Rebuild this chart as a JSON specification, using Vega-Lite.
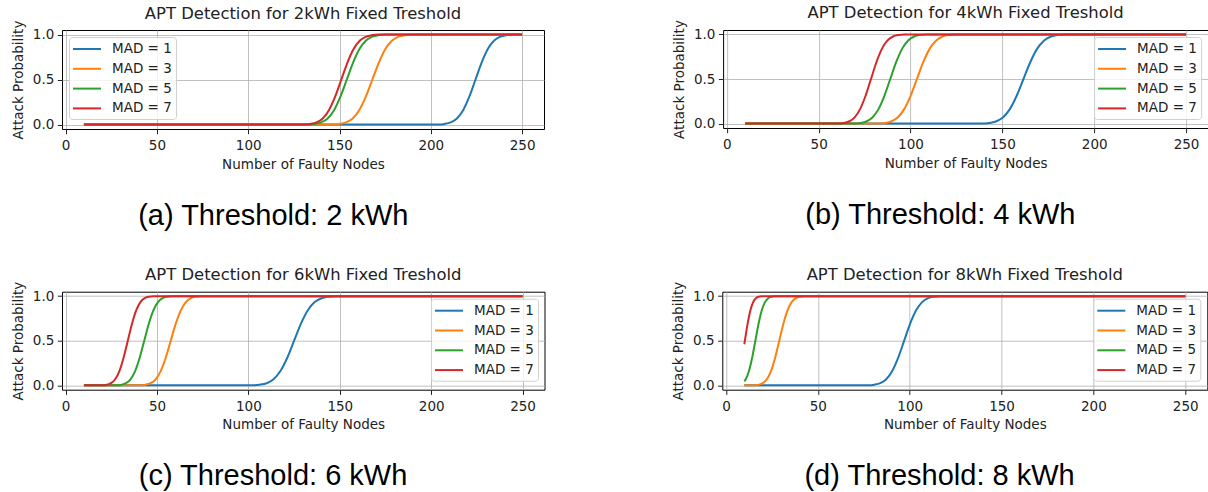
{
  "$schema": "https://vega.github.io/schema/vega-lite/v6.json",
  "padding": {"left": 11, "top": 4, "right": 0, "bottom": 0},
  "background": "white",
  "config": {
    "font": "DejaVu Sans",
    "view": {"stroke": "black", "strokeWidth": 1},
    "axis": {
      "labelFont": "DejaVu Sans", "labelFontSize": 13.5, "labelColor": "#222",
      "titleFont": "DejaVu Sans", "titleFontSize": 13.5, "titleFontWeight": "normal", "titleColor": "#222",
      "grid": true, "gridColor": "#b0b0b0", "gridWidth": 0.8,
      "tickColor": "#222", "tickSize": 4.7, "domain": false
    },
    "axisX": {"labelPadding": 5, "titlePadding": 5, "labelFlush": false},
    "axisY": {"labelPadding": 3.5, "titlePadding": 6.8},
    "title": {"font": "DejaVu Sans", "fontSize": 16.4, "fontWeight": "normal", "color": "#222", "baseline": "alphabetic", "offset": -2.2},
    "legend": {
      "title": null, "symbolStrokeWidth": 2, "symbolSize": 190,
      "labelFont": "DejaVu Sans", "labelFontSize": 13.5, "labelColor": "#222", "labelOffset": 23,
      "rowPadding": 4.8, "padding": 4, "offset": 7,
      "fillColor": "rgba(255,255,255,0.8)", "strokeColor": "#d0d0d0", "cornerRadius": 3
    },
    "line": {"strokeWidth": 2, "interpolate": "monotone"}
  },
  "datasets": {
    "d": [
      {"p":"a","m":1,"x":10,"y":0},{"p":"a","m":1,"x":204.1,"y":0},{"p":"a","m":1,"x":207.5,"y":0.006},{"p":"a","m":1,"x":210.9,"y":0.023},{"p":"a","m":1,"x":214.3,"y":0.067},{"p":"a","m":1,"x":217.7,"y":0.159},{"p":"a","m":1,"x":221.1,"y":0.309},{"p":"a","m":1,"x":224.5,"y":0.5},{"p":"a","m":1,"x":227.9,"y":0.691},{"p":"a","m":1,"x":231.3,"y":0.841},{"p":"a","m":1,"x":234.7,"y":0.933},{"p":"a","m":1,"x":238.1,"y":0.977},{"p":"a","m":1,"x":241.5,"y":0.994},{"p":"a","m":1,"x":244.9,"y":1},{"p":"a","m":1,"x":250,"y":1},
      {"p":"a","m":3,"x":10,"y":0},{"p":"a","m":3,"x":146.4,"y":0},{"p":"a","m":3,"x":150,"y":0.006},{"p":"a","m":3,"x":153.6,"y":0.023},{"p":"a","m":3,"x":157.2,"y":0.067},{"p":"a","m":3,"x":160.8,"y":0.159},{"p":"a","m":3,"x":164.4,"y":0.309},{"p":"a","m":3,"x":168,"y":0.5},{"p":"a","m":3,"x":171.6,"y":0.691},{"p":"a","m":3,"x":175.2,"y":0.841},{"p":"a","m":3,"x":178.8,"y":0.933},{"p":"a","m":3,"x":182.4,"y":0.977},{"p":"a","m":3,"x":186,"y":0.994},{"p":"a","m":3,"x":189.6,"y":1},{"p":"a","m":3,"x":250,"y":1},
      {"p":"a","m":5,"x":10,"y":0},{"p":"a","m":5,"x":133,"y":0},{"p":"a","m":5,"x":136.5,"y":0.006},{"p":"a","m":5,"x":140,"y":0.023},{"p":"a","m":5,"x":143.5,"y":0.067},{"p":"a","m":5,"x":147,"y":0.159},{"p":"a","m":5,"x":150.5,"y":0.309},{"p":"a","m":5,"x":154,"y":0.5},{"p":"a","m":5,"x":157.5,"y":0.691},{"p":"a","m":5,"x":161,"y":0.841},{"p":"a","m":5,"x":164.5,"y":0.933},{"p":"a","m":5,"x":168,"y":0.977},{"p":"a","m":5,"x":171.5,"y":0.994},{"p":"a","m":5,"x":175,"y":1},{"p":"a","m":5,"x":250,"y":1},
      {"p":"a","m":7,"x":10,"y":0},{"p":"a","m":7,"x":130.6,"y":0},{"p":"a","m":7,"x":134,"y":0.006},{"p":"a","m":7,"x":137.4,"y":0.023},{"p":"a","m":7,"x":140.8,"y":0.067},{"p":"a","m":7,"x":144.2,"y":0.159},{"p":"a","m":7,"x":147.6,"y":0.309},{"p":"a","m":7,"x":151,"y":0.5},{"p":"a","m":7,"x":154.4,"y":0.691},{"p":"a","m":7,"x":157.8,"y":0.841},{"p":"a","m":7,"x":161.2,"y":0.933},{"p":"a","m":7,"x":164.6,"y":0.977},{"p":"a","m":7,"x":168,"y":0.994},{"p":"a","m":7,"x":171.4,"y":1},{"p":"a","m":7,"x":250,"y":1},

      {"p":"b","m":1,"x":10,"y":0},{"p":"b","m":1,"x":139,"y":0},{"p":"b","m":1,"x":142.75,"y":0.006},{"p":"b","m":1,"x":146.5,"y":0.023},{"p":"b","m":1,"x":150.25,"y":0.067},{"p":"b","m":1,"x":154,"y":0.159},{"p":"b","m":1,"x":157.75,"y":0.309},{"p":"b","m":1,"x":161.5,"y":0.5},{"p":"b","m":1,"x":165.25,"y":0.691},{"p":"b","m":1,"x":169,"y":0.841},{"p":"b","m":1,"x":172.75,"y":0.933},{"p":"b","m":1,"x":176.5,"y":0.977},{"p":"b","m":1,"x":180.25,"y":0.994},{"p":"b","m":1,"x":184,"y":1},{"p":"b","m":1,"x":250,"y":1},
      {"p":"b","m":3,"x":10,"y":0},{"p":"b","m":3,"x":82.5,"y":0},{"p":"b","m":3,"x":86,"y":0.006},{"p":"b","m":3,"x":89.5,"y":0.023},{"p":"b","m":3,"x":93,"y":0.067},{"p":"b","m":3,"x":96.5,"y":0.159},{"p":"b","m":3,"x":100,"y":0.309},{"p":"b","m":3,"x":103.5,"y":0.5},{"p":"b","m":3,"x":107,"y":0.691},{"p":"b","m":3,"x":110.5,"y":0.841},{"p":"b","m":3,"x":114,"y":0.933},{"p":"b","m":3,"x":117.5,"y":0.977},{"p":"b","m":3,"x":121,"y":0.994},{"p":"b","m":3,"x":124.5,"y":1},{"p":"b","m":3,"x":250,"y":1},
      {"p":"b","m":5,"x":10,"y":0},{"p":"b","m":5,"x":69.5,"y":0},{"p":"b","m":5,"x":72.75,"y":0.006},{"p":"b","m":5,"x":76,"y":0.023},{"p":"b","m":5,"x":79.25,"y":0.067},{"p":"b","m":5,"x":82.5,"y":0.159},{"p":"b","m":5,"x":85.75,"y":0.309},{"p":"b","m":5,"x":89,"y":0.5},{"p":"b","m":5,"x":92.25,"y":0.691},{"p":"b","m":5,"x":95.5,"y":0.841},{"p":"b","m":5,"x":98.75,"y":0.933},{"p":"b","m":5,"x":102,"y":0.977},{"p":"b","m":5,"x":105.25,"y":0.994},{"p":"b","m":5,"x":108.5,"y":1},{"p":"b","m":5,"x":250,"y":1},
      {"p":"b","m":7,"x":10,"y":0},{"p":"b","m":7,"x":60.5,"y":0},{"p":"b","m":7,"x":63.5,"y":0.006},{"p":"b","m":7,"x":66.5,"y":0.023},{"p":"b","m":7,"x":69.5,"y":0.067},{"p":"b","m":7,"x":72.5,"y":0.159},{"p":"b","m":7,"x":75.5,"y":0.309},{"p":"b","m":7,"x":78.5,"y":0.5},{"p":"b","m":7,"x":81.5,"y":0.691},{"p":"b","m":7,"x":84.5,"y":0.841},{"p":"b","m":7,"x":87.5,"y":0.933},{"p":"b","m":7,"x":90.5,"y":0.977},{"p":"b","m":7,"x":93.5,"y":0.994},{"p":"b","m":7,"x":96.5,"y":1},{"p":"b","m":7,"x":250,"y":1},

      {"p":"c","m":1,"x":10,"y":0},{"p":"c","m":1,"x":102.5,"y":0},{"p":"c","m":1,"x":106.25,"y":0.006},{"p":"c","m":1,"x":110,"y":0.023},{"p":"c","m":1,"x":113.75,"y":0.067},{"p":"c","m":1,"x":117.5,"y":0.159},{"p":"c","m":1,"x":121.25,"y":0.309},{"p":"c","m":1,"x":125,"y":0.5},{"p":"c","m":1,"x":128.75,"y":0.691},{"p":"c","m":1,"x":132.5,"y":0.841},{"p":"c","m":1,"x":136.25,"y":0.933},{"p":"c","m":1,"x":140,"y":0.977},{"p":"c","m":1,"x":143.75,"y":0.994},{"p":"c","m":1,"x":147.5,"y":1},{"p":"c","m":1,"x":250,"y":1},
      {"p":"c","m":3,"x":10,"y":0},{"p":"c","m":3,"x":41,"y":0},{"p":"c","m":3,"x":43.75,"y":0.006},{"p":"c","m":3,"x":46.5,"y":0.023},{"p":"c","m":3,"x":49.25,"y":0.067},{"p":"c","m":3,"x":52,"y":0.159},{"p":"c","m":3,"x":54.75,"y":0.309},{"p":"c","m":3,"x":57.5,"y":0.5},{"p":"c","m":3,"x":60.25,"y":0.691},{"p":"c","m":3,"x":63,"y":0.841},{"p":"c","m":3,"x":65.75,"y":0.933},{"p":"c","m":3,"x":68.5,"y":0.977},{"p":"c","m":3,"x":71.25,"y":0.994},{"p":"c","m":3,"x":74,"y":1},{"p":"c","m":3,"x":250,"y":1},
      {"p":"c","m":5,"x":10,"y":0},{"p":"c","m":5,"x":28,"y":0},{"p":"c","m":5,"x":30.5,"y":0.006},{"p":"c","m":5,"x":33,"y":0.023},{"p":"c","m":5,"x":35.5,"y":0.067},{"p":"c","m":5,"x":38,"y":0.159},{"p":"c","m":5,"x":40.5,"y":0.309},{"p":"c","m":5,"x":43,"y":0.5},{"p":"c","m":5,"x":45.5,"y":0.691},{"p":"c","m":5,"x":48,"y":0.841},{"p":"c","m":5,"x":50.5,"y":0.933},{"p":"c","m":5,"x":53,"y":0.977},{"p":"c","m":5,"x":55.5,"y":0.994},{"p":"c","m":5,"x":58,"y":1},{"p":"c","m":5,"x":250,"y":1},
      {"p":"c","m":7,"x":10,"y":0},{"p":"c","m":7,"x":20.2,"y":0},{"p":"c","m":7,"x":22.5,"y":0.006},{"p":"c","m":7,"x":24.8,"y":0.023},{"p":"c","m":7,"x":27.1,"y":0.067},{"p":"c","m":7,"x":29.4,"y":0.159},{"p":"c","m":7,"x":31.7,"y":0.309},{"p":"c","m":7,"x":34,"y":0.5},{"p":"c","m":7,"x":36.3,"y":0.691},{"p":"c","m":7,"x":38.6,"y":0.841},{"p":"c","m":7,"x":40.9,"y":0.933},{"p":"c","m":7,"x":43.2,"y":0.977},{"p":"c","m":7,"x":45.5,"y":0.994},{"p":"c","m":7,"x":47.8,"y":1},{"p":"c","m":7,"x":250,"y":1},

      {"p":"d","m":1,"x":10,"y":0},{"p":"d","m":1,"x":77.5,"y":0},{"p":"d","m":1,"x":80.75,"y":0.006},{"p":"d","m":1,"x":84,"y":0.023},{"p":"d","m":1,"x":87.25,"y":0.067},{"p":"d","m":1,"x":90.5,"y":0.159},{"p":"d","m":1,"x":93.75,"y":0.309},{"p":"d","m":1,"x":97,"y":0.5},{"p":"d","m":1,"x":100.25,"y":0.691},{"p":"d","m":1,"x":103.5,"y":0.841},{"p":"d","m":1,"x":106.75,"y":0.933},{"p":"d","m":1,"x":110,"y":0.977},{"p":"d","m":1,"x":113.25,"y":0.994},{"p":"d","m":1,"x":116.5,"y":1},{"p":"d","m":1,"x":250,"y":1},
      {"p":"d","m":3,"x":10,"y":0},{"p":"d","m":3,"x":15.5,"y":0},{"p":"d","m":3,"x":17.75,"y":0.006},{"p":"d","m":3,"x":20,"y":0.023},{"p":"d","m":3,"x":22.25,"y":0.067},{"p":"d","m":3,"x":24.5,"y":0.159},{"p":"d","m":3,"x":26.75,"y":0.309},{"p":"d","m":3,"x":29,"y":0.5},{"p":"d","m":3,"x":31.25,"y":0.691},{"p":"d","m":3,"x":33.5,"y":0.841},{"p":"d","m":3,"x":35.75,"y":0.933},{"p":"d","m":3,"x":38,"y":0.977},{"p":"d","m":3,"x":40.25,"y":0.994},{"p":"d","m":3,"x":42.5,"y":1},{"p":"d","m":3,"x":250,"y":1},
      {"p":"d","m":5,"x":10,"y":0.044},{"p":"d","m":5,"x":10.75,"y":0.067},{"p":"d","m":5,"x":12.5,"y":0.159},{"p":"d","m":5,"x":14.25,"y":0.309},{"p":"d","m":5,"x":16,"y":0.5},{"p":"d","m":5,"x":17.75,"y":0.691},{"p":"d","m":5,"x":19.5,"y":0.841},{"p":"d","m":5,"x":21.25,"y":0.933},{"p":"d","m":5,"x":23,"y":0.977},{"p":"d","m":5,"x":24.75,"y":0.994},{"p":"d","m":5,"x":26.5,"y":1},{"p":"d","m":5,"x":250,"y":1},
      {"p":"d","m":7,"x":10,"y":0.46},{"p":"d","m":7,"x":11.8,"y":0.691},{"p":"d","m":7,"x":13.3,"y":0.841},{"p":"d","m":7,"x":14.8,"y":0.933},{"p":"d","m":7,"x":16.3,"y":0.977},{"p":"d","m":7,"x":17.8,"y":0.994},{"p":"d","m":7,"x":19.3,"y":1},{"p":"d","m":7,"x":250,"y":1}
    ]
  },
  "columns": 1,
  "spacing": 34.7,
  "resolve": {"scale": {"color": "independent"}, "legend": {"color": "independent"}},
  "concat": [
    {
      "spacing": 127.1,
      "resolve": {"scale": {"color": "independent"}, "legend": {"color": "independent"}},
      "hconcat": [
        {
          "title": {"text": "(a) Threshold: 2 kWh", "orient": "bottom", "font": "Liberation Sans", "fontSize": 29, "fontWeight": "normal", "color": "black", "baseline": "alphabetic", "offset": 53.5, "anchor": "middle", "dx": -4.5},
          "resolve": {"scale": {"color": "independent"}, "legend": {"color": "independent"}},
          "vconcat": [
            {
              "title": "APT Detection for 2kWh Fixed Treshold",
              "width": 482, "height": 99,
              "data": {"name": "d"},
              "transform": [{"filter": "datum.p == 'a'"}],
              "mark": {"type": "line"},
              "encoding": {
                "x": {"field": "x", "type": "quantitative", "scale": {"domain": [-2, 262], "nice": false, "zero": false}, "axis": {"values": [0, 50, 100, 150, 200, 250], "title": "Number of Faulty Nodes"}},
                "y": {"field": "y", "type": "quantitative", "scale": {"domain": [-0.05, 1.05], "nice": false, "zero": false}, "axis": {"values": [0, 0.5, 1], "format": ".1f", "title": "Attack Probability"}},
                "color": {"field": "m", "type": "nominal", "scale": {"domain": [1, 3, 5, 7], "range": ["#1f77b4", "#ff7f0e", "#2ca02c", "#d62728"]}, "legend": {"orient": "top-left", "symbolType": "M-1.161,0H2.902", "labelExpr": "'MAD = ' + datum.label"}}
              }
            }
          ]
        },
        {
          "title": {"text": "(b) Threshold: 4 kWh", "orient": "bottom", "font": "Liberation Sans", "fontSize": 29, "fontWeight": "normal", "color": "black", "baseline": "alphabetic", "offset": 53.5, "anchor": "middle"},
          "resolve": {"scale": {"color": "independent"}, "legend": {"color": "independent"}},
          "vconcat": [
            {
              "title": "APT Detection for 4kWh Fixed Treshold",
              "width": 485, "height": 98,
              "data": {"name": "d"},
              "transform": [{"filter": "datum.p == 'b'"}],
              "mark": {"type": "line"},
              "encoding": {
                "x": {"field": "x", "type": "quantitative", "scale": {"domain": [-2, 262], "nice": false, "zero": false}, "axis": {"values": [0, 50, 100, 150, 200, 250], "title": "Number of Faulty Nodes"}},
                "y": {"field": "y", "type": "quantitative", "scale": {"domain": [-0.05, 1.05], "nice": false, "zero": false}, "axis": {"values": [0, 0.5, 1], "format": ".1f", "title": "Attack Probability"}},
                "color": {"field": "m", "type": "nominal", "scale": {"domain": [1, 3, 5, 7], "range": ["#1f77b4", "#ff7f0e", "#2ca02c", "#d62728"]}, "legend": {"orient": "top-right", "symbolType": "M-1.161,0H2.902", "labelExpr": "'MAD = ' + datum.label"}}
              }
            }
          ]
        }
      ]
    },
    {
      "spacing": 126.3,
      "resolve": {"scale": {"color": "independent"}, "legend": {"color": "independent"}},
      "hconcat": [
        {
          "title": {"text": "(c) Threshold: 6 kWh", "orient": "bottom", "font": "Liberation Sans", "fontSize": 29, "fontWeight": "normal", "color": "black", "baseline": "alphabetic", "offset": 53.5, "anchor": "middle", "dx": -5},
          "resolve": {"scale": {"color": "independent"}, "legend": {"color": "independent"}},
          "vconcat": [
            {
              "title": "APT Detection for 6kWh Fixed Treshold",
              "width": 482.5, "height": 98,
              "data": {"name": "d"},
              "transform": [{"filter": "datum.p == 'c'"}],
              "mark": {"type": "line"},
              "encoding": {
                "x": {"field": "x", "type": "quantitative", "scale": {"domain": [-2, 262], "nice": false, "zero": false}, "axis": {"values": [0, 50, 100, 150, 200, 250], "title": "Number of Faulty Nodes"}},
                "y": {"field": "y", "type": "quantitative", "scale": {"domain": [-0.05, 1.05], "nice": false, "zero": false}, "axis": {"values": [0, 0.5, 1], "format": ".1f", "title": "Attack Probability"}},
                "color": {"field": "m", "type": "nominal", "scale": {"domain": [1, 3, 5, 7], "range": ["#1f77b4", "#ff7f0e", "#2ca02c", "#d62728"]}, "legend": {"orient": "top-right", "symbolType": "M-1.161,0H2.902", "labelExpr": "'MAD = ' + datum.label"}}
              }
            }
          ]
        },
        {
          "title": {"text": "(d) Threshold: 8 kWh", "orient": "bottom", "font": "Liberation Sans", "fontSize": 29, "fontWeight": "normal", "color": "black", "baseline": "alphabetic", "offset": 53.5, "anchor": "middle"},
          "resolve": {"scale": {"color": "independent"}, "legend": {"color": "independent"}},
          "vconcat": [
            {
              "title": "APT Detection for 8kWh Fixed Treshold",
              "width": 485, "height": 98,
              "data": {"name": "d"},
              "transform": [{"filter": "datum.p == 'd'"}],
              "mark": {"type": "line"},
              "encoding": {
                "x": {"field": "x", "type": "quantitative", "scale": {"domain": [-2, 262], "nice": false, "zero": false}, "axis": {"values": [0, 50, 100, 150, 200, 250], "title": "Number of Faulty Nodes"}},
                "y": {"field": "y", "type": "quantitative", "scale": {"domain": [-0.05, 1.05], "nice": false, "zero": false}, "axis": {"values": [0, 0.5, 1], "format": ".1f", "title": "Attack Probability"}},
                "color": {"field": "m", "type": "nominal", "scale": {"domain": [1, 3, 5, 7], "range": ["#1f77b4", "#ff7f0e", "#2ca02c", "#d62728"]}, "legend": {"orient": "top-right", "symbolType": "M-1.161,0H2.902", "labelExpr": "'MAD = ' + datum.label"}}
              }
            }
          ]
        }
      ]
    }
  ]
}
